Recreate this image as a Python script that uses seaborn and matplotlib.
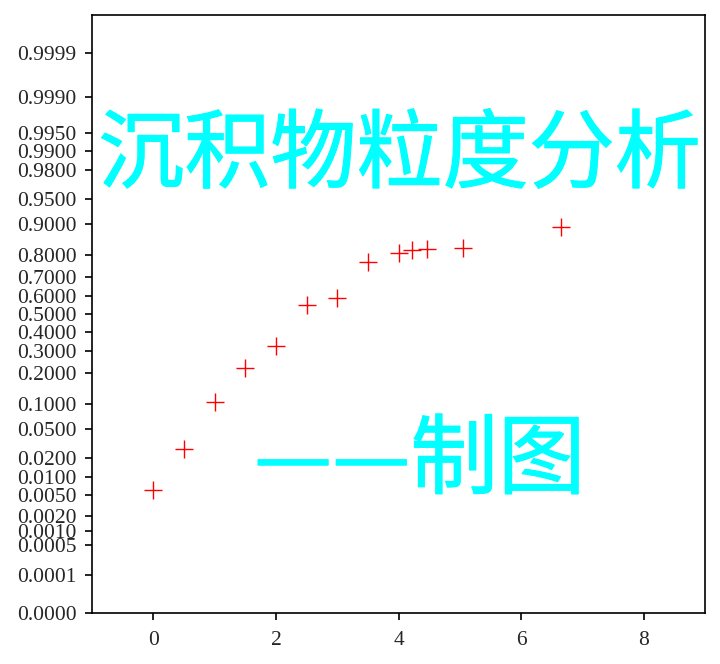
from statistics import NormalDist

import matplotlib
matplotlib.use("Agg")
import matplotlib.pyplot as plt
import matplotlib.patheffects as pe
import seaborn as sns


# -------------------------------
# data: grain size (phi) vs cumulative probability
# -------------------------------
phi = [0.0, 0.5, 1.0, 1.5, 2.0, 2.5, 3.0, 3.5, 4.0, 4.22, 4.47, 5.05, 6.65]
cum_prob = [0.0061, 0.0268, 0.104, 0.221, 0.325, 0.552, 0.593,
            0.769, 0.807, 0.819, 0.822, 0.826, 0.894]

prob_ticks = [0.00001, 0.0001, 0.0005, 0.001, 0.002, 0.005, 0.01, 0.02,
              0.05, 0.1, 0.2, 0.3, 0.4, 0.5, 0.6, 0.7, 0.8, 0.9, 0.95,
              0.98, 0.99, 0.995, 0.999, 0.9999]
x_ticks = [0, 2, 4, 6, 8]

title_text = "沉积物粒度分析"
sub_text = "——制图"

nd = NormalDist()
z = [nd.inv_cdf(p) for p in cum_prob]
z_ticks = [nd.inv_cdf(p) for p in prob_ticks]


# -------------------------------
# plot
# -------------------------------
sns.set_style("ticks")
plt.rcParams["font.family"] = ["Liberation Serif", "DejaVu Serif"]

fig = plt.figure(figsize=(7.2, 6.64), dpi=100)
ax = fig.add_axes([92 / 720, 1 - 613 / 664, 613 / 720, 598 / 664])

sns.scatterplot(x=phi, y=z, marker="+", color="red", s=160,
                linewidth=1.0, ax=ax)

ax.set_xlim(-1, 9)
ax.set_ylim(nd.inv_cdf(0.00001), nd.inv_cdf(0.99999))
ax.set_xticks(x_ticks)
ax.set_yticks(z_ticks)
ax.set_yticklabels([f"{p:.4f}" for p in prob_ticks])
ax.tick_params(labelsize=15.5, length=5, width=1.2, color="black")
ax.tick_params(axis="y", pad=6)
ax.tick_params(axis="x", pad=8)
for s in ax.spines.values():
    s.set_color("black")
    s.set_linewidth(1.2)

# big cyan overlay text, slightly thickened strokes
cjk = ["Noto Sans CJK SC", "DejaVu Sans"]
thick = [pe.withStroke(linewidth=0.8, foreground="#00FFFF")]
fig.text(0.555, 1 - 157 / 664, title_text, color="#00FFFF", fontsize=62,
         family=cjk, ha="center", va="center", path_effects=thick)
fig.text(0.583, 1 - 462 / 664, sub_text, color="#00FFFF", fontsize=63,
         family=cjk, ha="center", va="center", path_effects=thick)

fig.savefig("out.png", dpi=100)
